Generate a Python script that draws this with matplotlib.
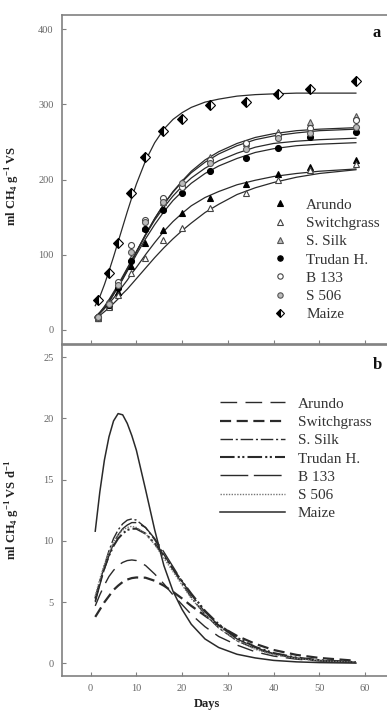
import matplotlib
matplotlib.use("Agg")
import matplotlib.pyplot as plt

plt.rcParams['font.family'] = ['Liberation Serif', 'DejaVu Serif']
plt.rcParams['mathtext.fontset'] = 'custom'
plt.rcParams['mathtext.rm'] = 'Liberation Serif'
plt.rcParams['mathtext.bf'] = 'Liberation Serif:bold'

# ---------------- data ----------------
series = ["Arundo", "Switchgrass", "S. Silk", "Trudan H.", "B 133", "S 506", "Maize"]

# measured points (panel a)
point_days = [1.7, 3.9, 6.0, 8.8, 11.9, 15.8, 20, 26, 34, 41, 48, 58]
pts_arundo = [15, 31, 50, 85, 115, 133, 156, 176, 194, 207, 217, 226]
pts_switch = [15, 30, 46, 75, 95, 119, 135, 162, 182, 199, 212, 221]
pts_ssilk = [16, 33, 60, 95, 136, 170, 197, 230, 248, 263, 277, 284]
pts_trudan = [17, 33, 55, 92, 134, 160, 182, 211, 228, 242, 257, 263]
pts_b133 = [16, 35, 64, 113, 146, 176, 190, 226, 248, 259, 268, 279]
pts_s506 = [17, 34, 60, 104, 143, 170, 195, 222, 240, 255, 262, 270]
pts_maize = [40, 76, 116, 182, 230, 264, 281, 299, 303, 314, 321, 331]

# fitted curves (panel a, cumulative) and rates (panel b)
curve_days = [1, 2, 3, 4, 5, 6, 7, 8, 9, 10, 12, 14, 16, 18, 20, 22, 25, 28, 32, 36, 40, 45, 50, 58]
cum_arundo = [17, 22, 28, 35, 42, 50, 58, 66, 75, 83, 100, 116, 131, 144, 155, 165, 176, 184, 193, 199, 204, 208, 211, 214]
cum_switch = [15, 19, 24, 29, 35, 41, 48, 54, 61, 68, 82, 96, 109, 121, 132, 142, 156, 167, 180, 189, 196, 203, 208, 213]
cum_ssilk = [16, 22, 29, 37, 47, 57, 68, 79, 91, 103, 126, 148, 167, 184, 198, 211, 226, 237, 248, 256, 261, 265, 267, 269]
cum_trudan = [16, 22, 29, 37, 47, 57, 67, 78, 89, 100, 121, 140, 157, 172, 184, 195, 208, 218, 228, 236, 241, 245, 247, 249]
cum_b133 = [17, 23, 30, 39, 48, 58, 69, 81, 92, 104, 127, 148, 167, 183, 197, 209, 223, 234, 245, 253, 258, 262, 265, 267]
cum_s506 = [17, 23, 31, 40, 50, 60, 71, 82, 93, 104, 126, 146, 163, 178, 191, 202, 215, 225, 235, 243, 248, 251, 253, 255]
cum_maize = [32, 44, 60, 78, 97, 117, 137, 157, 176, 194, 225, 249, 267, 280, 289, 296, 303, 307, 311, 313, 314, 315, 315, 315]

rate_arundo = [4.7, 5.6, 6.4, 7.1, 7.6, 8.0, 8.25, 8.4, 8.45, 8.4, 8.0, 7.3, 6.5, 5.6, 4.8, 4.0, 3.0, 2.2, 1.5, 0.95, 0.6, 0.35, 0.2, 0.08]
rate_switch = [3.8, 4.4, 5.0, 5.5, 6.0, 6.35, 6.65, 6.85, 6.97, 7.02, 7.0, 6.75, 6.35, 5.85, 5.3, 4.7, 3.9, 3.1, 2.25, 1.6, 1.1, 0.7, 0.45, 0.22]
rate_ssilk = [5.1, 6.6, 8.0, 9.2, 10.2, 10.9, 11.4, 11.7, 11.8, 11.7, 11.1, 10.1, 8.9, 7.7, 6.5, 5.4, 4.0, 2.9, 1.85, 1.2, 0.75, 0.42, 0.23, 0.09]
rate_trudan = [5.3, 6.6, 7.8, 8.8, 9.6, 10.2, 10.6, 10.9, 11.0, 11.0, 10.6, 9.8, 8.8, 7.7, 6.7, 5.7, 4.3, 3.2, 2.1, 1.35, 0.85, 0.48, 0.27, 0.11]
rate_b133 = [5.0, 6.4, 7.7, 8.8, 9.8, 10.5, 11.0, 11.3, 11.5, 11.5, 11.1, 10.2, 9.1, 7.9, 6.7, 5.6, 4.2, 3.1, 2.0, 1.3, 0.8, 0.45, 0.25, 0.1]
rate_s506 = [5.5, 6.9, 8.1, 9.1, 9.9, 10.5, 10.9, 11.1, 11.2, 11.1, 10.6, 9.7, 8.6, 7.5, 6.4, 5.3, 4.0, 2.9, 1.85, 1.15, 0.72, 0.4, 0.22, 0.09]
rate_maize = [10.8, 14.0, 16.6, 18.5, 19.8, 20.4, 20.3, 19.6, 18.6, 17.4, 14.2, 10.9, 8.0, 5.9, 4.4, 3.2, 2.0, 1.3, 0.75, 0.45, 0.25, 0.13, 0.07, 0.03]

a_ticks = [0, 100, 200, 300, 400]
b_ticks = [0, 5, 10, 15, 20, 25]
x_ticks = [0, 10, 20, 30, 40, 50, 60]

points = [pts_arundo, pts_switch, pts_ssilk, pts_trudan, pts_b133, pts_s506, pts_maize]
cums = [cum_arundo, cum_switch, cum_ssilk, cum_trudan, cum_b133, cum_s506, cum_maize]
rates = [rate_arundo, rate_switch, rate_ssilk, rate_trudan, rate_b133, rate_s506, rate_maize]

# ---------------- styles ----------------
marker_styles = [
    dict(marker='^', mfc='black', mec='black'),
    dict(marker='^', mfc='white', mec='#444444'),
    dict(marker='^', mfc='#bbbbbb', mec='#555555'),
    dict(marker='o', mfc='black', mec='black'),
    dict(marker='o', mfc='white', mec='#444444'),
    dict(marker='o', mfc='#bbbbbb', mec='#555555'),
    dict(marker='D', mfc='black', mec='black', fillstyle='left', mfcalt='white'),
]
line_styles = [
    dict(ls=(0, (12, 6)), lw=1.0),
    dict(ls=(0, (5, 2.5)), lw=1.6),
    dict(ls=(0, (9, 2, 1.5, 2)), lw=1.0),
    dict(ls=(0, (7, 1.5, 1, 1.2, 1, 1.5)), lw=1.5),
    dict(ls=(0, (20, 4)), lw=1.0),
    dict(ls=(0, (1, 1)), lw=1.0),
    dict(ls='-', lw=1.1),
]
line_color = '#2a2a2a'
spine_color = '#808080'
tick_color = '#666666'

W, H = 387, 710
fig = plt.figure(figsize=(W / 100, H / 100), dpi=100)
L = 62 / W
axA = fig.add_axes([L, 1 - 344 / H, 1 - L, (344 - 15) / H])
axB = fig.add_axes([L, 1 - 675.7 / H, 1 - L, (675.7 - 345) / H])

xlim = (-6.27, 64.8)

# panel a
for i in range(len(series)):
    axA.plot(curve_days, cums[i], color=line_color, lw=0.9, zorder=2)
for i in range(len(series)):
    ms = marker_styles[i]
    kw = dict(marker=ms['marker'], markerfacecolor=ms['mfc'], markeredgecolor=ms['mec'],
              markersize=4.3 if ms['marker'] != 'D' else 4.6, markeredgewidth=0.8, linestyle='none')
    if 'fillstyle' in ms:
        kw['fillstyle'] = ms['fillstyle']
        kw['markerfacecoloralt'] = ms['mfcalt']
    axA.plot(point_days, points[i], label=series[i], zorder=3, **kw)

axA.set_xlim(*xlim)
axA.set_ylim(-19, 419)
axA.set_yticks(a_ticks)
axA.set_xticks(x_ticks)
axA.tick_params(axis='x', labelbottom=False)

# panel b
for i in range(len(series)):
    st = line_styles[i]
    c = '#777777' if i == 5 else line_color
    axB.plot(curve_days, rates[i], color=c, linestyle=st['ls'], lw=st['lw'], label=series[i])
axB.set_xlim(*xlim)
axB.set_ylim(-1, 26)
axB.set_yticks(b_ticks)
axB.set_xticks(x_ticks)

for ax in (axA, axB):
    ax.spines['right'].set_visible(False)
    for s in ('top', 'bottom', 'left'):
        ax.spines[s].set_color(spine_color)
        ax.spines[s].set_linewidth(1.2)
    ax.tick_params(direction='in', length=3, width=0.8, color=spine_color,
                   labelsize=7.5, labelcolor=tick_color, pad=6)

axA.set_ylabel(r'ml CH$_\mathbf{4}$ g$^{\mathbf{-1}}$ VS', fontsize=9, fontweight='bold', color='#222222')
axA.yaxis.set_label_coords(-0.123, 0.48)
axB.set_ylabel(r'ml CH$_\mathbf{4}$ g$^{\mathbf{-1}}$ VS d$^{\mathbf{-1}}$', fontsize=9, fontweight='bold', color='#222222')
axB.yaxis.set_label_coords(-0.123, 0.5)
axB.set_xlabel('Days', fontsize=9, fontweight='bold', color='#222222')
axB.xaxis.set_label_coords(0.446, -0.066)

axA.text(0.969, 0.945, 'a', transform=axA.transAxes, fontsize=12, fontweight='bold',
         ha='center', va='center', color='#111111')
axB.text(0.969, 0.94, 'b', transform=axB.transAxes, fontsize=12, fontweight='bold',
         ha='center', va='center', color='#111111')

legA = axA.legend(loc='upper left', bbox_to_anchor=(272.5 / W, 1 - 198 / H),
                  bbox_transform=fig.transFigure, frameon=False, fontsize=11,
                  handlelength=1.0, handletextpad=1.2, labelspacing=0.3,
                  borderpad=0, borderaxespad=0, markerscale=0.9)
for t in legA.get_texts():
    t.set_color('#333333')

legB = axB.legend(loc='upper left', bbox_to_anchor=(220 / W, 1 - 397 / H),
                  bbox_transform=fig.transFigure, frameon=False, fontsize=11,
                  handlelength=4.25, handletextpad=0.85, labelspacing=0.3,
                  borderpad=0, borderaxespad=0)
for t in legB.get_texts():
    t.set_color('#333333')

fig.savefig('out.png', dpi=100)
